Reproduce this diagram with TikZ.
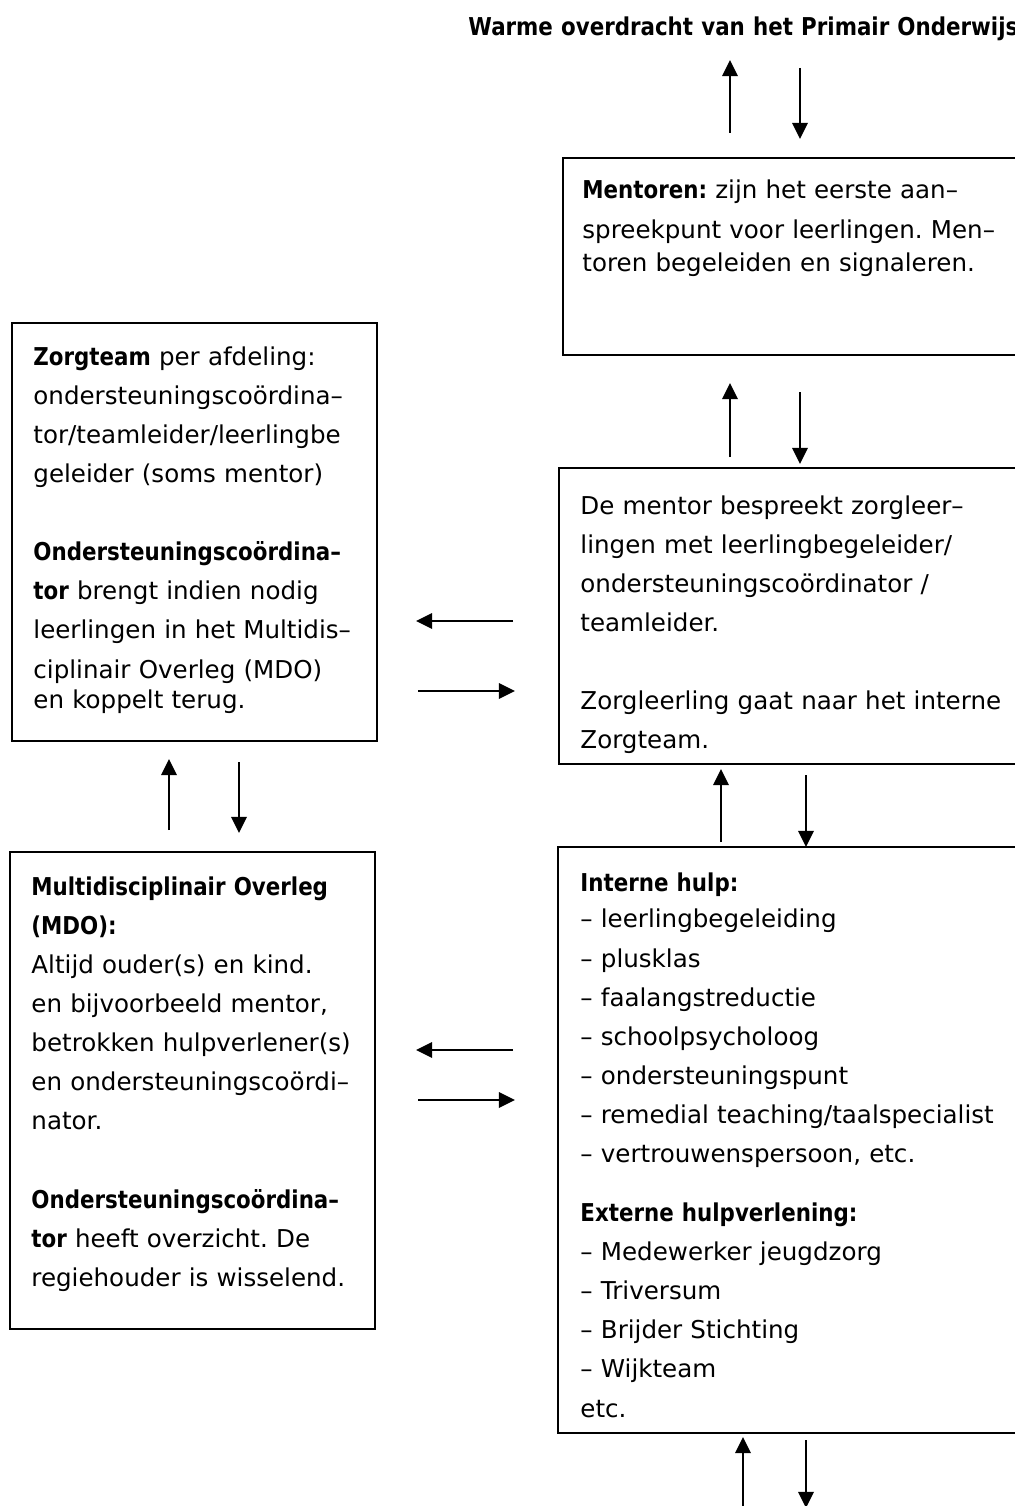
\documentclass[tikz,border=0pt]{standalone}
\usepackage{fontspec}
\setmainfont{DejaVu Sans}[BoldFeatures={FakeStretch=0.87}]
\usetikzlibrary{arrows.meta}
\frenchspacing

\tikzset{
  kader/.style={draw, line width=0.9pt, anchor=north west, inner sep=0pt},
  tekst/.style={anchor=base west, inner sep=0pt, align=left, text width=220pt,
    font=\fontsize{11.3}{18}\selectfont},
  pijl/.style={line width=1.25pt, -{Triangle[length=7.4pt,width=7pt]}},
}

\begin{document}
\begin{tikzpicture}[x=0.46pt,y=-0.46pt]
\useasboundingbox (0,0) rectangle (1015,1506);

% titel
\node[tekst, text width=300pt] (titel) at (468,36) {\textbf{Warme overdracht van het Primair Onderwijs}};

% kaders rechts
\node[kader, minimum width=478*0.46pt, minimum height=197*0.46pt] (mentoren) at (562,157) {};
\node[kader, minimum width=482*0.46pt, minimum height=296*0.46pt] (bespreking) at (558,467) {};
\node[kader, minimum width=483*0.46pt, minimum height=586*0.46pt] (hulp) at (557,846) {};
% kaders links
\node[kader, minimum width=365*0.46pt, minimum height=418*0.46pt] (zorgteam) at (11,322) {};
\node[kader, minimum width=365*0.46pt, minimum height=477*0.46pt] (mdo) at (9,851) {};

% teksten
\node[tekst] (mentorentekst) at (582,199) {\textbf{Mentoren:} zijn het eerste aan–\\
spreekpunt voor leerlingen. Men–\\[-2.6pt]
toren begeleiden en signaleren.};

\node[tekst] (besprekingtekst) at (580,514) {De mentor bespreekt zorgleer–\\
lingen met leerlingbegeleider/\\
ondersteuningscoördinator /\\
teamleider.\\[18pt]
Zorgleerling gaat naar het interne\\
Zorgteam.};

\node[tekst] (hulptekst) at (580,891) {\textbf{Interne hulp:}\\[-1pt]
– leerlingbegeleiding\\
– plusklas\\
– faalangstreductie\\
– schoolpsycholoog\\
– ondersteuningspunt\\
– remedial teaching/taalspecialist\\
– vertrouwenspersoon, etc.\\[9pt]
\textbf{Externe hulpverlening:}\\
– Medewerker jeugdzorg\\
– Triversum\\
– Brijder Stichting\\
– Wijkteam\\
etc.};

\node[tekst] (zorgteamtekst) at (33,365) {\textbf{Zorgteam} per afdeling:\\
ondersteuningscoördina–\\
tor/teamleider/leerlingbe\\
geleider (soms mentor)\\[18pt]
\textbf{Ondersteuningscoördina–}\\
\textbf{tor} brengt indien nodig\\
leerlingen in het Multidis–\\
ciplinair Overleg (MDO)\\[-4pt]
en koppelt terug.};

\node[tekst] (mdotekst) at (31,895) {\textbf{Multidisciplinair Overleg}\\
\textbf{(MDO):}\\
Altijd ouder(s) en kind.\\
en bijvoorbeeld mentor,\\
betrokken hulpverlener(s)\\
en ondersteuningscoördi–\\
nator.\\[18pt]
\textbf{Ondersteuningscoördina–}\\
\textbf{tor} heeft overzicht. De\\
regiehouder is wisselend.};

% eindpunten van de pijlen
\coordinate (p1a) at (730,133);  \coordinate (p1b) at (730,60);
\coordinate (p2a) at (800,68);   \coordinate (p2b) at (800,139);
\coordinate (p3a) at (730,457);  \coordinate (p3b) at (730,383);
\coordinate (p4a) at (800,392);  \coordinate (p4b) at (800,464);
\coordinate (p5a) at (721,842);  \coordinate (p5b) at (721,769);
\coordinate (p6a) at (806,775);  \coordinate (p6b) at (806,847);
\coordinate (p7a) at (743,1510); \coordinate (p7b) at (743,1437);
\coordinate (p8a) at (806,1440); \coordinate (p8b) at (806,1508);
\coordinate (p9a) at (169,830);  \coordinate (p9b) at (169,759);
\coordinate (p10a) at (239,762); \coordinate (p10b) at (239,833);
\coordinate (p11a) at (513,621); \coordinate (p11b) at (416,621);
\coordinate (p12a) at (418,691); \coordinate (p12b) at (515,691);
\coordinate (p13a) at (513,1050); \coordinate (p13b) at (416,1050);
\coordinate (p14a) at (418,1100); \coordinate (p14b) at (515,1100);

% pijlen
\draw[pijl] (p1a) -- (p1b);
\draw[pijl] (p2a) -- (p2b);
\draw[pijl] (p3a) -- (p3b);
\draw[pijl] (p4a) -- (p4b);
\draw[pijl] (p5a) -- (p5b);
\draw[pijl] (p6a) -- (p6b);
\draw[pijl] (p7a) -- (p7b);
\draw[pijl] (p8a) -- (p8b);
\draw[pijl] (p9a) -- (p9b);
\draw[pijl] (p10a) -- (p10b);
\draw[pijl] (p11a) -- (p11b);
\draw[pijl] (p12a) -- (p12b);
\draw[pijl] (p13a) -- (p13b);
\draw[pijl] (p14a) -- (p14b);
\end{tikzpicture}
\end{document}
